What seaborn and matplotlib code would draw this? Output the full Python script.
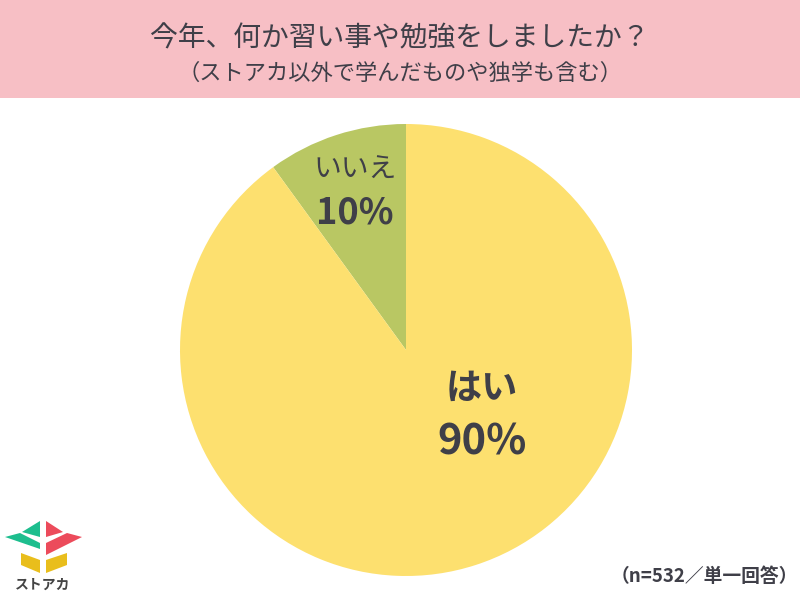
import matplotlib
matplotlib.use('Agg')
import matplotlib.pyplot as plt
import seaborn as sns
from matplotlib.patches import Rectangle, Polygon

# データ
labels = ['いいえ', 'はい']
values = [10, 90]
slice_colors = ['#B9C763', '#FDE06F']

title = '今年、何か習い事や勉強をしましたか？'
subtitle = '（ストアカ以外で学んだものや独学も含む）'
note = '（n=532／単一回答）'

sns.set_theme(style='white')
plt.rcParams['font.family'] = ['Noto Sans CJK JP', 'DejaVu Sans']

text_color = '#3F3F48'

fig = plt.figure(figsize=(8, 6), dpi=100)
fig.patch.set_facecolor('white')

# ヘッダー帯
fig.patches.append(Rectangle((0, 1 - 98 / 600), 1, 98 / 600, transform=fig.transFigure,
                             facecolor='#F7BFC5', edgecolor='none', zorder=0))
fig.text(0.5, 1 - 38 / 600, title, ha='center', va='center', fontsize=20,
         color=text_color)
fig.text(0.5, 1 - 73 / 600, subtitle, ha='center', va='center', fontsize=16, color=text_color)

# 円グラフ
ax = fig.add_axes([180 / 800, 24 / 600, 452 / 800, 452 / 600])
ax.pie(values, colors=slice_colors, startangle=90, counterclock=True, radius=1,
       wedgeprops=dict(linewidth=0))
ax.set_xlim(-1, 1)
ax.set_ylim(-1, 1)
ax.set_aspect('equal')
ax.axis('off')

pct = [f'{v}%' for v in values]
ax.text(-0.226, 0.796, labels[0], ha='center', va='center', fontsize=20, color=text_color)
ax.text(-0.226, 0.606, pct[0], ha='center', va='center', fontsize=26, fontweight='bold', color=text_color)
ax.text(0.336, -0.168, labels[1], ha='center', va='center', fontsize=26, fontweight='bold', color=text_color)
ax.text(0.336, -0.41, pct[1], ha='center', va='center', fontsize=30, fontweight='bold', color=text_color)

fig.text(1 - 2 / 800, 1 - 577 / 600, note, ha='right', va='center', fontsize=13.5,
         fontweight='bold', color=text_color)

# ロゴ（簡易）
def px(pts):
    return [(x / 800, 1 - y / 600) for x, y in pts]

logo = [
    ([(22, 532), (40, 521), (40, 537)], '#1DBE8E'),
    ([(5, 537), (20, 533), (40, 543), (40, 549)], '#1DBE8E'),
    ([(46, 521), (63, 532), (46, 537)], '#EC4B5B'),
    ([(46, 543), (67, 533), (82, 537), (46, 555)], '#EC4B5B'),
    ([(21, 553), (40, 560), (40, 573), (21, 565)], '#E9BE1C'),
    ([(46, 560), (67, 553), (67, 565), (46, 573)], '#E9BE1C'),
]
for pts, c in logo:
    fig.patches.append(Polygon(px(pts), closed=True, transform=fig.transFigure,
                               facecolor=c, edgecolor='none'))
fig.text(43 / 800, 1 - 585 / 600, 'ストアカ', ha='center', va='center', fontsize=10,
         fontweight='bold', color='#444444')

fig.savefig('out.png', dpi=100)
